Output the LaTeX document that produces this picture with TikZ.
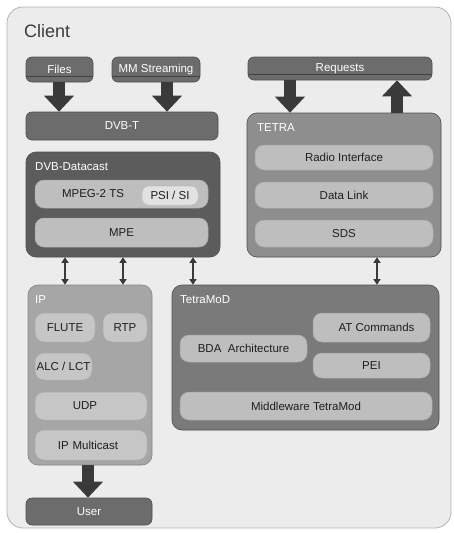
\documentclass[tikz,border=0pt]{standalone}
\usepackage{fontspec}
\setmainfont{Liberation Sans}
\usetikzlibrary{arrows.meta}

\definecolor{pagebg}{HTML}{FFFFFF}
\definecolor{clientfill}{HTML}{ECECEC}
\definecolor{clientdraw}{HTML}{B4B4B4}
\definecolor{darkfill}{HTML}{6C6C6C}
\definecolor{darkdraw}{HTML}{4E4E4E}
\definecolor{datacastfill}{HTML}{5C5C5C}
\definecolor{tetrafill}{HTML}{8E8E8E}
\definecolor{tmodfill}{HTML}{7A7A7A}
\definecolor{ipfill}{HTML}{A6A6A6}
\definecolor{layerfill}{HTML}{BEBEBE}
\definecolor{layerdraw}{HTML}{A8A8A8}
\definecolor{iplayerfill}{HTML}{C6C6C6}
\definecolor{psifill}{HTML}{E2E2E2}
\definecolor{arrowdark}{HTML}{3A3A3A}
\definecolor{textdark}{HTML}{1E1E1E}
\definecolor{titlegray}{HTML}{3C3C3C}

\tikzset{
  txt/.style={font=\fontsize{11.5}{13}\selectfont, inner sep=0pt},
  darkbox/.style={txt, fill=darkfill, draw=darkdraw, text=white, rounded corners=6pt, line width=0.6pt},
  splitbox/.style={darkbox, path picture={
      \draw[black!75, line width=0.8pt]
        ([yshift=6pt]path picture bounding box.south west) --
        ([yshift=6pt]path picture bounding box.south east);}},
  container/.style={rounded corners=10pt, draw=darkdraw, line width=0.6pt, inner sep=0pt},
  layer/.style={txt, fill=layerfill, draw=layerdraw, text=textdark, rounded corners=9pt, line width=0.5pt},
  iplayer/.style={layer, fill=iplayerfill},
  boxlabel/.style={txt, text=white, anchor=west},
  bigarrow/.style={draw=arrowdark, line width=11.5pt, -{Triangle[length=16pt,width=29pt]}},
  linkarrow/.style={draw=arrowdark, line width=1.5pt,
    {Triangle[length=5.5pt,width=7pt]}-{Triangle[length=5.5pt,width=7pt]}},
}

\begin{document}
\begin{tikzpicture}[x=1pt, y=-1pt]
  \fill[pagebg] (0,0) rectangle (453,533);
  \useasboundingbox (0,0) rectangle (453,533);

  % client frame
  \node[draw=clientdraw, fill=clientfill, rounded corners=16pt, line width=0.8pt,
        minimum width=444pt, minimum height=521pt, inner sep=0pt] (client) at (229,267.5) {};
  \node[anchor=west, inner sep=0pt, text=titlegray, font=\fontsize{18}{20}\selectfont] (clienttitle) at (24,31) {Client};

  % sources
  \node[splitbox, minimum width=67pt, minimum height=25pt] (files) at (59.5,69.5) {Files};
  \node[splitbox, minimum width=88pt, minimum height=25pt] (mm) at (156,69.5) {MM Streaming};
  \node[splitbox, minimum width=184pt, minimum height=23pt] (req) at (340,68.5) {Requests};

  % DVB-T
  \node[darkbox, minimum width=192pt, minimum height=28pt] (dvbt) at (122,126) {DVB-T};

  % DVB-Datacast
  \node[container, fill=datacastfill, minimum width=194pt, minimum height=105pt] (dvbdc) at (123,204.5) {};
  \node[boxlabel] (dvbdclbl) at (35,167) {DVB-Datacast};
  \node[layer, minimum width=173pt, minimum height=28pt] (mpeg) at (121.5,194) {};
  \node[txt, text=textdark] (mpegtxt) at (93,194) {MPEG-2 TS};
  \node[layer, fill=psifill, draw=psifill!85!black, rounded corners=7pt,
        minimum width=56pt, minimum height=19pt] (psi) at (170,195.5) {PSI / SI};
  \node[layer, minimum width=173pt, minimum height=29pt] (mpe) at (121.5,232.5) {MPE};

  % TETRA
  \node[container, fill=tetrafill, minimum width=194pt, minimum height=144pt] (tetra) at (344,185) {};
  \node[boxlabel] (tetralbl) at (257,127.5) {TETRA};
  \node[layer, minimum width=178pt, minimum height=25pt] (radio) at (344,157.5) {Radio Interface};
  \node[layer, minimum width=178pt, minimum height=26pt] (dlink) at (344,195) {Data Link};
  \node[layer, minimum width=178pt, minimum height=27pt] (sds) at (344,233.5) {SDS};

  % IP
  \node[container, fill=ipfill, draw=ipfill!80!black, minimum width=124pt, minimum height=180pt] (ip) at (90,375) {};
  \node[boxlabel] (iplbl) at (35,300) {IP};
  \node[iplayer, minimum width=60pt, minimum height=29pt] (flute) at (65,327.5) {FLUTE};
  \node[iplayer, minimum width=44pt, minimum height=29pt] (rtp) at (125,327.5) {RTP};
  \node[iplayer, minimum width=57pt, minimum height=27pt] (alc) at (63.5,366.5) {ALC / LCT};
  \node[iplayer, minimum width=112pt, minimum height=28pt, text width=112pt, align=center] (udp) at (91,406) {UDP\hspace*{12pt}};
  \node[iplayer, minimum width=112pt, minimum height=30pt, text width=112pt, align=center] (ipm) at (91,445) {IP Multicast\hspace*{6pt}};

  % User
  \node[darkbox, minimum width=126pt, minimum height=27pt] (user) at (89,511.5) {User};

  % TetraMoD
  \node[container, fill=tmodfill, minimum width=267pt, minimum height=145pt] (tmod) at (305.5,357.5) {};
  \node[boxlabel] (tmodlbl) at (180,300) {TetraMoD};
  \node[layer, minimum width=117pt, minimum height=29pt] (atc) at (371.5,327.5) {\hspace*{10pt}AT Commands};
  \node[layer, minimum width=127pt, minimum height=27pt] (bda) at (243.5,348.5) {BDA~ Architecture};
  \node[layer, minimum width=117pt, minimum height=25pt] (pei) at (371.5,365.5) {PEI};
  \node[layer, minimum width=252pt, minimum height=28pt] (mw) at (306,406) {Middleware TetraMod};

  % block arrows
  \draw[bigarrow] ([xshift=-0.5pt]files.south) -- ([xshift=-0.5pt]files.south |- dvbt.north);
  \draw[bigarrow] ([xshift=11pt]mm.south) -- ([xshift=11pt]mm.south |- dvbt.north);
  \draw[bigarrow] ([xshift=-50pt]req.south) -- ([xshift=-50pt]req.south |- tetra.north);
  \draw[bigarrow] ([xshift=53pt]tetra.north) -- ([xshift=53pt]tetra.north |- req.south);
  \draw[bigarrow] ([xshift=-2pt]ip.south) -- ([xshift=-2pt]ip.south |- user.north);

  % interface links
  \draw[linkarrow] ([xshift=-58pt]dvbdc.south) -- ([xshift=-58pt]dvbdc.south |- ip.north);
  \draw[linkarrow] (dvbdc.south) -- (dvbdc.south |- ip.north);
  \draw[linkarrow] ([xshift=70pt]dvbdc.south) -- ([xshift=70pt]dvbdc.south |- tmod.north);
  \draw[linkarrow] ([xshift=33pt]tetra.south) -- ([xshift=33pt]tetra.south |- tmod.north);
\end{tikzpicture}
\end{document}
